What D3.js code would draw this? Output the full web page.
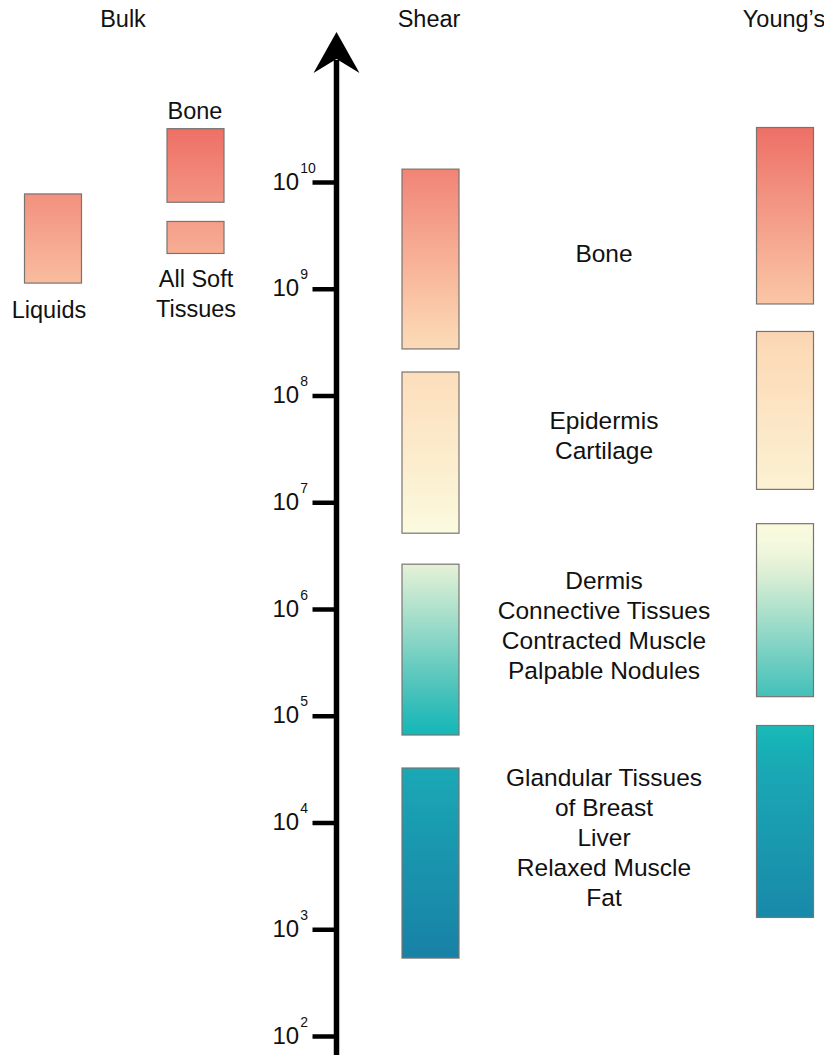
<!DOCTYPE html>
<html>
<head>
<meta charset="utf-8">
<script src="https://cdn.jsdelivr.net/npm/d3@7"></script>
<style>
  html, body { margin: 0; padding: 0; background: #ffffff; }
  svg { display: block; }
  svg text { font-family: Arial, "Liberation Sans", Helvetica, sans-serif; }
</style>
</head>
<body>
<svg id="chart" width="824" height="1055"></svg>
<script>
// Elastic moduli of tissues (Pa): bulk, shear and Young's ranges on a shared log axis.

const columns = ["Bulk", "Shear", "Young’s"];

// Bulk modulus ranges
const bulkCategories = ["Liquids", "Bone", "All Soft Tissues"];
const bulkLow  = [1.13e9, 6.46e9, 2.14e9];
const bulkHigh = [7.73e9, 3.16e10, 4.27e9];

// Shear modulus ranges (one bar per tissue group)
const tissueGroups = [
  ["Bone"],
  ["Epidermis", "Cartilage"],
  ["Dermis", "Connective Tissues", "Contracted Muscle", "Palpable Nodules"],
  ["Glandular Tissues", "of Breast", "Liver", "Relaxed Muscle", "Fat"]
];
const shearLow  = [2.73e8, 5.13e6, 6.6e4, 537];
const shearHigh = [1.32e10, 1.66e8, 2.63e6, 3.24e4];

// Young's modulus ranges for the same groups
const youngLow  = [7.2e8, 1.32e7, 1.51e5, 1.29e3];
const youngHigh = [3.24e10, 3.98e8, 6.3e6, 8.1e4];

// Axis ticks
const tickValues = [1e2, 1e3, 1e4, 1e5, 1e6, 1e7, 1e8, 1e9, 1e10];
const tickExponents = ["2", "3", "4", "5", "6", "7", "8", "9", "10"];

// ---- layout ----
const svg = d3.select("#chart");
const axisX = 336.5;
const barW = 57;
const FONT = "Arial, 'Liberation Sans', Helvetica, sans-serif";

const y = d3.scaleLog().domain([1e2, 1e10]).range([1036, 182]);

// column centres
const xCol = d3.scaleOrdinal()
  .domain(["Liquids", "BulkSolid", "Shear", "Young's"])
  .range([53, 195.5, 430.5, 785]);

// colour along the modulus (log10) axis
const colorByExp = d3.scaleLinear()
  .domain([2.7, 4.5, 4.85, 5.2, 6.4, 6.7, 7.0, 8.5, 9.0, 9.9, 10.5])
  .range(["#1880a6", "#1aa8b5", "#14b8b8", "#45c1ba", "#e4f1d6", "#fafbe0",
          "#fbf4d6", "#fcd9b6", "#f9bfa0", "#f2907f", "#ee6f65"])
  .interpolate(d3.interpolateRgb)
  .clamp(true);

const defs = svg.append("defs");
let gradId = 0;
function gradientFor(lo, hi) {
  const id = "g" + (gradId++);
  const g = defs.append("linearGradient").attr("id", id)
    .attr("x1", 0).attr("y1", 0).attr("x2", 0).attr("y2", 1);
  const eHi = Math.log10(hi), eLo = Math.log10(lo);
  d3.range(0, 1.0001, 0.1).forEach(t => {
    g.append("stop").attr("offset", t)
      .attr("stop-color", colorByExp(eHi + (eLo - eHi) * t));
  });
  return "url(#" + id + ")";
}

function drawBar(cx, lo, hi) {
  svg.append("rect")
    .attr("x", cx - barW / 2)
    .attr("y", y(hi))
    .attr("width", barW)
    .attr("height", y(lo) - y(hi))
    .attr("fill", gradientFor(lo, hi))
    .attr("stroke", "#7a7470")
    .attr("stroke-width", 1.2);
}

// ---- bars ----
const bulkX = ["Liquids", "BulkSolid", "BulkSolid"];
bulkCategories.forEach((c, i) => drawBar(xCol(bulkX[i]), bulkLow[i], bulkHigh[i]));
shearLow.forEach((lo, i) => drawBar(xCol("Shear"), lo, shearHigh[i]));
youngLow.forEach((lo, i) => drawBar(xCol("Young's"), lo, youngHigh[i]));

// ---- column titles ----
const titleX = [123, 429, 784];
svg.selectAll("text.title").data(columns).join("text")
  .attr("class", "title")
  .attr("x", (d, i) => titleX[i]).attr("y", 27)
  .attr("text-anchor", "middle")
  .attr("font-family", FONT)
  .attr("font-size", 23.5).attr("fill", "#111")
  .text(d => d);

// ---- labels ----
function multiline(x, yFirst, lines, size) {
  const t = svg.append("text").attr("text-anchor", "middle")
    .attr("font-family", FONT)
    .attr("font-size", size).attr("fill", "#111");
  lines.forEach((l, i) => {
    t.append("tspan").attr("x", x).attr("y", yFirst + i * 30).text(l);
  });
}
multiline(49, 318, [bulkCategories[0]], 23.5);
multiline(195, y(bulkHigh[1]) - 10, [bulkCategories[1]], 23.5);
multiline(196, 287, ["All Soft", "Tissues"], 23.5);

// tissue group labels (first-line baselines)
const groupLabelY = [262, 429, 589, 786];
tissueGroups.forEach((lines, i) => multiline(604, groupLabelY[i], lines, 24.5));

// ---- axis ----
svg.append("line")
  .attr("x1", axisX).attr("x2", axisX)
  .attr("y1", 1060).attr("y2", 60)
  .attr("stroke", "#000").attr("stroke-width", 5.5);

svg.append("path")
  .attr("d", `M${axisX},32 L${axisX + 23},73 L${axisX},59 L${axisX - 23},73 Z`)
  .attr("fill", "#000");

const axisG = svg.append("g")
  .attr("transform", `translate(${axisX},0)`)
  .call(d3.axisLeft(y).tickValues(tickValues).tickSize(24).tickFormat(() => ""));
axisG.select(".domain").remove();
axisG.selectAll(".tick line").attr("stroke", "#000").attr("stroke-width", 4.5);

axisG.selectAll(".tick").each(function (d) {
  const t = d3.select(this).append("text")
    .attr("x", -64).attr("y", 7)
    .attr("text-anchor", "start")
    .attr("font-family", FONT)
    .attr("fill", "#111")
    .attr("font-size", 24);
  t.append("tspan").text("10");
  t.append("tspan").attr("font-size", 14).attr("dx", 1).attr("dy", -17)
    .text(tickExponents[tickValues.indexOf(d)]);
});
</script>
</body>
</html>
